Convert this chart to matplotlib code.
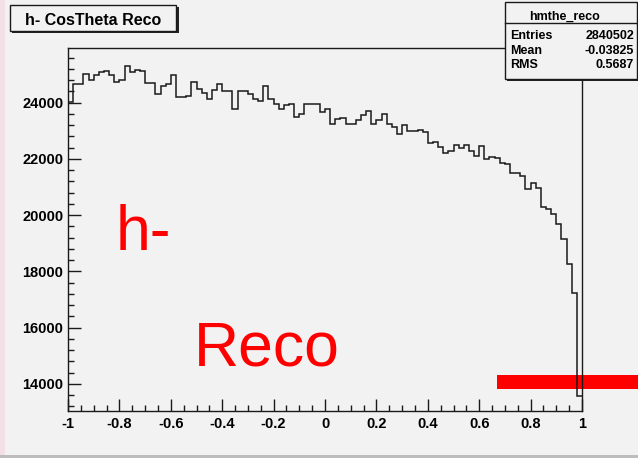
import matplotlib
matplotlib.use("Agg")
import matplotlib.pyplot as plt
import numpy as np
from matplotlib.patches import Rectangle
from matplotlib.ticker import MultipleLocator

# cos(theta) of the reconstructed h-, 100 bins on [-1, 1]
counts = [
    24010, 24680, 24680, 25020, 24800, 24970, 25090, 25120, 24970, 24740,
    24820, 25290, 25090, 25170, 25120, 24700, 24700, 24310, 24580, 24660,
    25000, 24200, 24200, 24250, 24730, 24490, 24350, 24120, 24460, 24680,
    24430, 24430, 23770, 24430, 24430, 24300, 24120, 24070, 24600, 24120,
    23940, 23770, 23910, 23940, 23500, 23590, 23940, 23940, 23940, 23680,
    23770, 23250, 23420, 23470, 23250, 23250, 23380, 23550, 23690, 23250,
    23380, 23600, 23250, 23130, 22900, 23210, 22980, 22980, 23030, 22970,
    22560, 22610, 22430, 22200, 22290, 22510, 22380, 22510, 22290, 22120,
    22470, 21990, 22080, 22030, 21870, 21810, 21510, 21510, 21380, 20930,
    21160, 20960, 20290, 20230, 20040, 19690, 19170, 18250, 17250, 13570,
]
x_range = (-1.0, 1.0)
y_range = (13040, 25960)

hist_title = "h- CosTheta Reco"
stats_name = "hmthe_reco"
stats_labels = ["Entries", "Mean", "RMS"]
stats_values = ["2840502", "-0.03825", "0.5687"]

W, H = 638, 458
BG = "#f2f2f2"
FONT = "Liberation Sans"


def fx(x):
    return x / W


def fy(y):
    return 1 - y / H


def box(fig, x0, y0, x1, y1, **kw):
    r = Rectangle((fx(x0), fy(y1)), (x1 - x0) / W, (y1 - y0) / H,
                  transform=fig.transFigure, **kw)
    fig.add_artist(r)
    return r


def xfmt(v, pos):
    v = round(v, 3) + 0.0
    return f"{v:g}"


fig = plt.figure(figsize=(W / 100, H / 100), dpi=100, facecolor=BG)
ax = fig.add_axes([fx(68), fy(411), (582 - 68) / W, (411 - 47.5) / H])
ax.set_facecolor(BG)

edges = np.linspace(x_range[0], x_range[1], len(counts) + 1)
ax.stairs(counts, edges, baseline=None, color="#1a1a1a", lw=1.1, zorder=3)

ax.set_xlim(*x_range)
ax.set_ylim(*y_range)
ax.xaxis.set_major_locator(MultipleLocator(0.2))
ax.xaxis.set_minor_locator(MultipleLocator(0.05))
ax.yaxis.set_major_locator(MultipleLocator(2000))
ax.yaxis.set_minor_locator(MultipleLocator(400))
ax.xaxis.set_major_formatter(plt.FuncFormatter(xfmt))
ax.tick_params(which="both", direction="in", top=False, right=False,
               color="#1a1a1a", width=1)
ax.tick_params(which="major", length=9)
ax.tick_params(which="minor", length=4.5)
ax.tick_params(axis="x", pad=4)
ax.tick_params(axis="y", pad=3.5)
for lab in ax.get_xticklabels() + ax.get_yticklabels():
    lab.set_fontfamily(FONT)
    lab.set_fontweight("bold")
    lab.set_fontsize(10.5)
for sp in ax.spines.values():
    sp.set_linewidth(1)
    sp.set_color("#1a1a1a")
    sp.set_zorder(4)

# red marker bar across the lower right corner
ax.add_patch(Rectangle((fx(497), fy(389)), 1, 14 / H, transform=fig.transFigure,
                       facecolor="#ff0000", edgecolor="none", clip_on=False,
                       zorder=2))

# red annotations
fig.text(fx(116), fy(250), "h-", color="#ff0000", fontsize=45,
         fontfamily=FONT, va="baseline", ha="left")
fig.text(fx(194), fy(366), "Reco", color="#ff0000", fontsize=45,
         fontfamily=FONT, va="baseline", ha="left")

# title pave with shadow
box(fig, 12, 7, 178.5, 32.5, facecolor="#222222", edgecolor="none", zorder=5)
box(fig, 10, 5, 176, 30.5, facecolor=BG, edgecolor="#1a1a1a", lw=1, zorder=6)
fig.text(fx(93.5), fy(25), hist_title, fontsize=11.5, fontweight="bold",
         fontfamily=FONT, ha="center", va="baseline", zorder=7)

# stats pave
box(fig, 507, 4, 639, 81, facecolor="#222222", edgecolor="none", zorder=5)
box(fig, 505, 2, 636.5, 79, facecolor=BG, edgecolor="#1a1a1a", lw=1, zorder=6)
fig.add_artist(plt.Line2D([fx(505), fx(636.5)], [fy(23.3), fy(23.3)],
                          transform=fig.transFigure, color="#1a1a1a", lw=1,
                          zorder=7))
fig.text(fx(565), fy(19.5), stats_name, fontsize=9, fontweight="bold",
         fontfamily=FONT, ha="center", va="baseline", zorder=7)
for i, (lab, val) in enumerate(zip(stats_labels, stats_values)):
    yb = 39 + i * 14.5
    fig.text(fx(510.5), fy(yb), lab, fontsize=9, fontweight="bold",
             fontfamily=FONT, ha="left", va="baseline", zorder=7)
    fig.text(fx(634), fy(yb), val, fontsize=9, fontweight="bold",
             fontfamily=FONT, ha="right", va="baseline", zorder=7)

# window edges
box(fig, 0, 0, 5, H, facecolor="#f3dfe6", edgecolor="none", zorder=0)
box(fig, 0, 455, W, H, facecolor="#bdbdbd", edgecolor="none", zorder=8)

fig.savefig("out.png", dpi=100, facecolor=BG)
